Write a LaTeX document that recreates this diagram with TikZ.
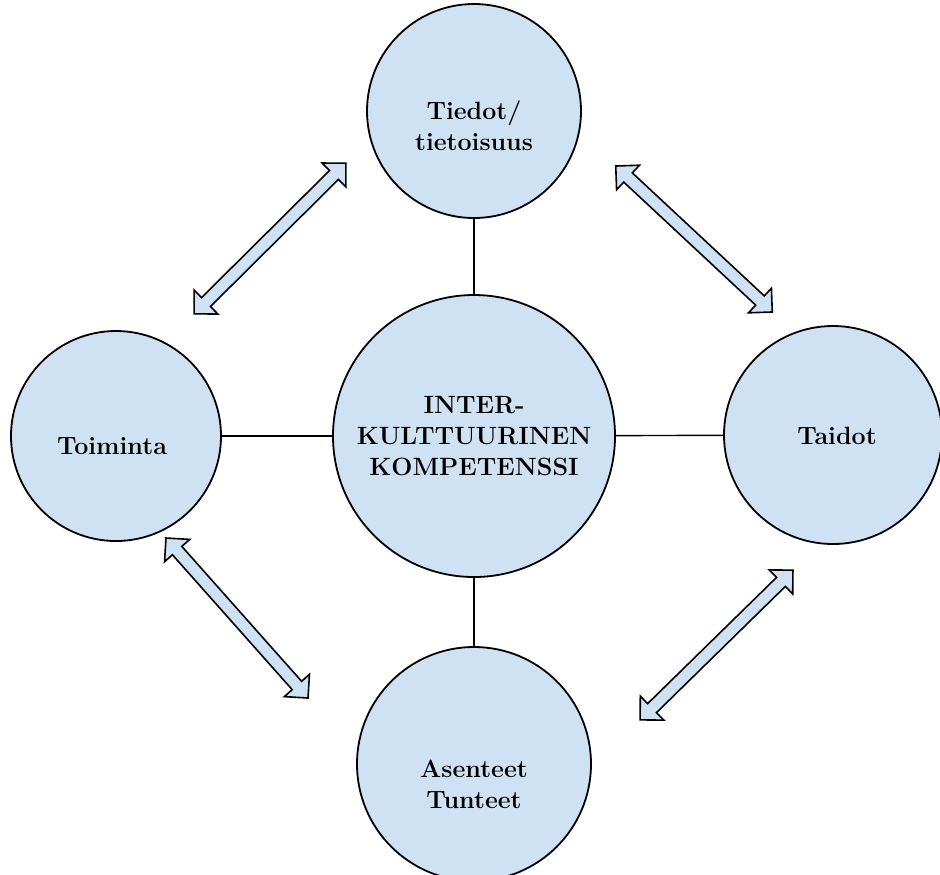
\documentclass[tikz,border=0pt]{standalone}
\usetikzlibrary{shapes.arrows}
\definecolor{vaaleansininen}{RGB}{207,226,243}

\begin{document}
\begin{tikzpicture}[x=0.5pt,y=-0.5pt,
  pallo/.style={circle,draw,line width=0.9pt,fill=vaaleansininen,inner sep=0pt},
  teksti/.style={font=\fontsize{12.5}{15.5}\selectfont\bfseries,align=center},
  nuoli/.style={double arrow,draw,line width=0.8pt,fill=vaaleansininen,inner sep=2.75pt,
    minimum height=107pt,double arrow head extend=5.25pt}]
\useasboundingbox (0,0) rectangle (940,874);

% pallot
\node[pallo,minimum size=107pt] (tiedot) at (474,111) {};
\node[pallo,minimum size=141pt] (kompetenssi) at (474,436) {};
\node[pallo,minimum size=105pt] (toiminta) at (116,436) {};
\node[pallo,minimum size=109pt] (taidot) at (833,435) {};
\node[pallo,minimum size=117pt] (asenteet) at (474,764) {};

% tekstit
\node[teksti] (tiedotT) at (474,126) {Tiedot/\\tietoisuus};
\node[teksti] (kompetenssiT) at (474,436) {INTER-\\KULTTUURINEN\\KOMPETENSSI};
\node[teksti] (toimintaT) at (112,446) {Toiminta};
\node[teksti] (taidotT) at (837,436) {Taidot};
\node[teksti] (asenteetT) at (474,784) {Asenteet\\Tunteet};

% viivat
\draw[line width=0.7pt] (tiedot) -- (kompetenssi);
\draw[line width=0.7pt] (toiminta) -- (kompetenssi);
\draw[line width=0.7pt] (kompetenssi) -- (taidot);
\draw[line width=0.7pt] (kompetenssi) -- (asenteet);

% nuolet
\node[nuoli,rotate=44.8] (nuoli1) at (270,238.5) {};
\node[nuoli,rotate=-43] (nuoli2) at (694,239) {};
\node[nuoli,rotate=-48.4] (nuoli3) at (237,618) {};
\node[nuoli,rotate=44.4] (nuoli4) at (716.5,645) {};
\end{tikzpicture}
\end{document}
